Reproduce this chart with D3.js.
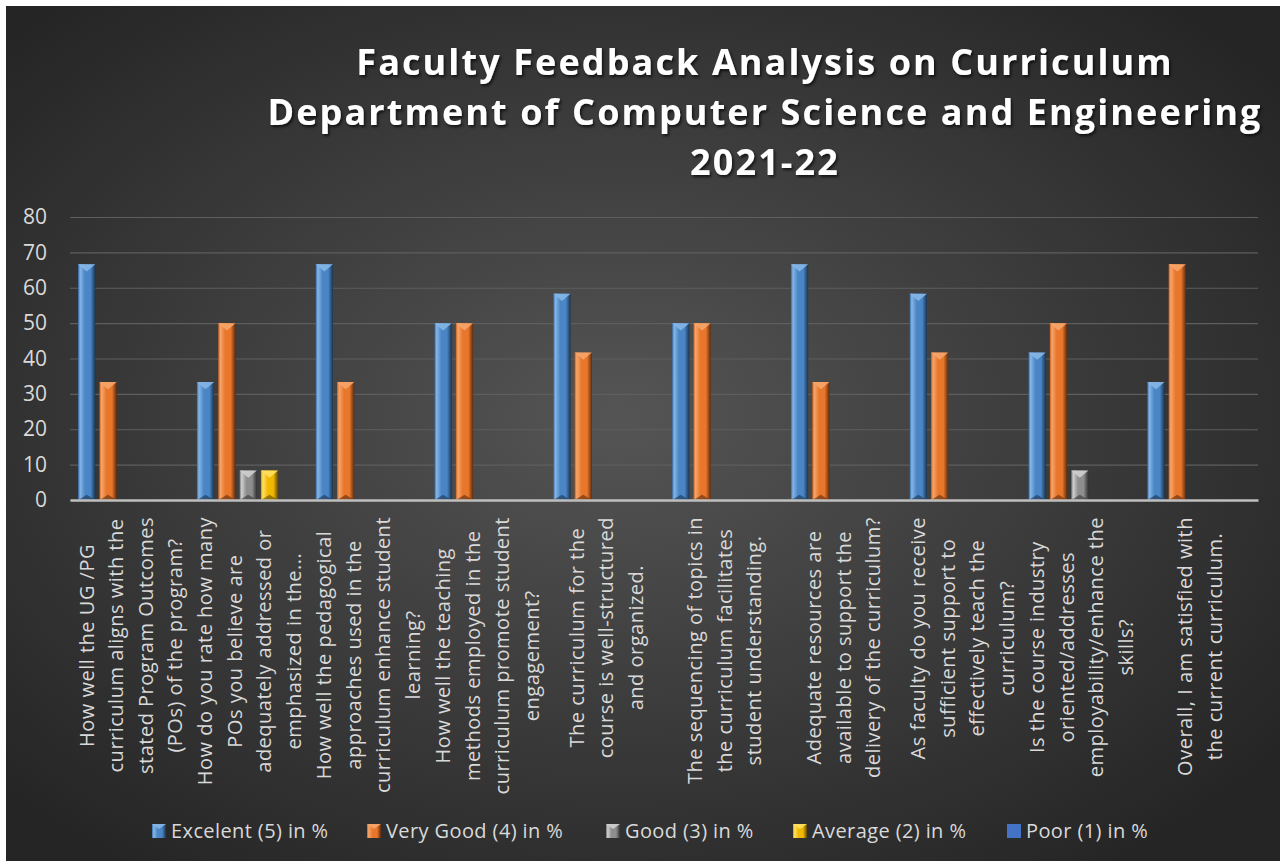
<!DOCTYPE html>
<html>
<head>
<meta charset="utf-8">
<script src="https://cdn.jsdelivr.net/npm/d3@7"></script>
<style>
  html, body { margin: 0; padding: 0; background: #ffffff; }
  svg { display: block; }
  text { font-family: "Open Sans", "DejaVu Sans", sans-serif; }
</style>
</head>
<body>
<svg id="chart" width="1286" height="867"></svg>
<script>
// ---------- data ----------
const titleLines = [
  "Faculty Feedback Analysis on Curriculum",
  "Department of Computer Science and Engineering",
  "2021-22"
];
const categoryLines = [
  ["How well the UG /PG", "curriculum aligns with the", "stated Program Outcomes", "(POs) of the program?"],
  ["How do you rate how many", "POs you believe are", "adequately addressed or", "emphasized in the..."],
  ["How well the pedagogical", "approaches used in the", "curriculum enhance student", "learning?"],
  ["How well the teaching", "methods employed in the", "curriculum promote student", "engagement?"],
  ["The curriculum for the", "course is well-structured", "and organized."],
  ["The sequencing of topics in", "the curriculum  facilitates", "student understanding."],
  ["Adequate resources are", "available to support the", "delivery of the curriculum?"],
  ["As faculty do you receive", "sufficient support to", "effectively teach the", "curriculum?"],
  ["Is the course industry", "oriented/addresses", "employability/enhance the", "skills?"],
  ["Overall, I am satisfied with", "the current  curriculum."]
];
const categories = categoryLines.map(l => l.join(" "));
const seriesNames = ["Excelent (5) in %", "Very Good (4) in %", "Good (3) in %", "Average (2) in %", "Poor (1) in %"];
const excellent = [66.67, 33.33, 66.67, 50, 58.33, 50, 66.67, 58.33, 41.67, 33.33];
const veryGood  = [33.33, 50, 33.33, 50, 41.67, 50, 33.33, 41.67, 50, 66.67];
const good      = [0, 8.33, 0, 0, 0, 0, 0, 0, 8.33, 0];
const average   = [0, 8.33, 0, 0, 0, 0, 0, 0, 0, 0];
const poor      = [0, 0, 0, 0, 0, 0, 0, 0, 0, 0];
const seriesValues = [excellent, veryGood, good, average, poor];
const yTicks = [0, 10, 20, 30, 40, 50, 60, 70, 80];

// ---------- styles ----------
const palette = [
  { base: "#4a86c6", light: "#86b6e6", dark: "#1b344f", edge: "#356aa3" },
  { base: "#e8772c", light: "#f6a56b", dark: "#5e2b0c", edge: "#c45f1e" },
  { base: "#8e8e8e", light: "#cfcfcf", dark: "#333333", edge: "#707070" },
  { base: "#f0b800", light: "#ffe163", dark: "#5e4700", edge: "#cf9c00" },
  { base: "#4472c4", light: "#4472c4", dark: "#4472c4", edge: "#4472c4", flat: true }
];

const plot = { left: 70, right: 1258, top: 217, bottom: 500 };

const svg = d3.select("#chart");
const defs = svg.append("defs");

// background gradient
const bg = defs.append("radialGradient").attr("id", "bg")
  .attr("cx", "48%").attr("cy", "48%").attr("r", "65%");
bg.append("stop").attr("offset", "0%").attr("stop-color", "#555555");
bg.append("stop").attr("offset", "100%").attr("stop-color", "#252525");

palette.forEach((p, i) => {
  const g = defs.append("linearGradient").attr("id", "bar" + i)
    .attr("x1", "0%").attr("x2", "100%").attr("y1", "0%").attr("y2", "0%");
  if (p.flat) {
    g.append("stop").attr("offset", "0%").attr("stop-color", p.base);
    g.append("stop").attr("offset", "100%").attr("stop-color", p.base);
  } else {
    g.append("stop").attr("offset", "0%").attr("stop-color", p.edge);
    g.append("stop").attr("offset", "12%").attr("stop-color", p.light);
    g.append("stop").attr("offset", "40%").attr("stop-color", p.base);
    g.append("stop").attr("offset", "72%").attr("stop-color", p.base);
    g.append("stop").attr("offset", "100%").attr("stop-color", p.dark);
  }
});

const shadow = defs.append("filter").attr("id", "tshadow")
  .attr("x", "-5%").attr("y", "-20%").attr("width", "110%").attr("height", "140%");
shadow.append("feDropShadow").attr("dx", 1.5).attr("dy", 2).attr("stdDeviation", 1.5)
  .attr("flood-color", "#000").attr("flood-opacity", 0.7);

// background box
svg.append("rect").attr("x", 6).attr("y", 6).attr("width", 1274).attr("height", 855)
  .attr("fill", "url(#bg)");

// title
const title = svg.append("g").attr("filter", "url(#tshadow)");
title.selectAll("text").data(titleLines).join("text")
  .attr("x", 765).attr("y", (d, i) => 75 + i * 50)
  .attr("text-anchor", "middle")
  .attr("fill", "#ffffff")
  .attr("font-size", 36).attr("font-weight", 700)
  .attr("letter-spacing", 2.1)
  .text(d => d);

// scales
const x0 = d3.scaleBand().domain(categories).range([plot.left, plot.right]).paddingInner(0).paddingOuter(0);
const x1 = d3.scaleBand().domain(seriesNames).range([0, x0.bandwidth()]).paddingInner(0.19).paddingOuter(0.38);
const y = d3.scaleLinear().domain([0, 80]).range([plot.bottom, plot.top]);

// gridlines
const grid = svg.append("g").attr("transform", `translate(${plot.left},0)`)
  .call(d3.axisLeft(y).tickValues(yTicks).tickSize(-(plot.right - plot.left)).tickFormat(""));
grid.select(".domain").remove();
grid.selectAll("line").attr("stroke", "#5e5e5e").attr("stroke-width", 1.2);

// y axis labels
const yAxis = svg.append("g").attr("transform", `translate(${plot.left},0)`)
  .call(d3.axisLeft(y).tickValues(yTicks).tickSize(0).tickPadding(23));
yAxis.select(".domain").remove();
yAxis.selectAll("text").attr("fill", "#d9d9d9").attr("font-size", 21)
  .attr("font-family", "'Open Sans', sans-serif");

// bars
const barData = [];
categories.forEach((c, ci) => {
  seriesNames.forEach((s, si) => {
    barData.push({ cat: c, ser: s, si, v: seriesValues[si][ci] });
  });
});
const bars = svg.append("g").selectAll("g.bar").data(barData.filter(d => d.v > 0)).join("g").attr("class", "bar");
bars.append("rect")
  .attr("x", d => x0(d.cat) + x1(d.ser))
  .attr("y", d => y(d.v))
  .attr("width", x1.bandwidth())
  .attr("height", d => y(0) - y(d.v))
  .attr("fill", d => `url(#bar${d.si})`);
// top bevel (V-shaped cap)
bars.append("path")
  .attr("d", d => {
    const xl = x0(d.cat) + x1(d.ser), w = x1.bandwidth(), yt = y(d.v);
    return `M${xl},${yt} L${xl + w},${yt} L${xl + w / 2},${yt + w * 0.42} Z`;
  })
  .attr("fill", d => palette[d.si].light).attr("opacity", 0.9);
// bottom bevel
bars.append("path")
  .attr("d", d => {
    const xl = x0(d.cat) + x1(d.ser), w = x1.bandwidth(), yb = y(0);
    return `M${xl},${yb} L${xl + w},${yb} L${xl + w / 2},${yb - w * 0.3} Z`;
  })
  .attr("fill", d => palette[d.si].dark).attr("opacity", 0.6);

// x axis line
svg.append("g").attr("transform", `translate(0,${plot.bottom})`)
  .call(d3.axisBottom(x0).tickSize(0).tickFormat(""))
  .call(g => g.select(".domain").attr("stroke", "#bfbfbf").attr("stroke-width", 2.5));

// x labels (rotated, wrapped)
const lineStep = 29.5;
const labelTop = 517;
const lab = svg.append("g");
categories.forEach((c, ci) => {
  const lines = categoryLines[ci];
  const cx = x0(c) + x0.bandwidth() / 2 + 1.5;
  const g = lab.append("g");
  const texts = g.selectAll("text").data(lines).join("text")
    .attr("text-anchor", "middle")
    .attr("fill", "#d9d9d9")
    .attr("font-size", 20)
    .attr("letter-spacing", 0.5)
    .attr("dy", "0.35em")
    .text(d => d);
  let maxLen = 0;
  texts.each(function () { maxLen = Math.max(maxLen, this.getComputedTextLength()); });
  const cy = labelTop + maxLen / 2;
  texts.attr("transform", (d, i) => {
    const lx = cx + (i - (lines.length - 1) / 2) * lineStep;
    return `translate(${lx},${cy}) rotate(-90)`;
  });
});

// legend
const legendX = [152, 367, 606, 793, 1007];
const legend = svg.append("g");
seriesNames.forEach((s, i) => {
  const g = legend.append("g").attr("transform", `translate(${legendX[i]},824)`);
  g.append("rect").attr("width", 14).attr("height", 14).attr("fill", `url(#bar${i})`);
  if (!palette[i].flat) {
    g.append("path").attr("d", "M0,0 L14,0 L7,5 Z").attr("fill", palette[i].light).attr("opacity", 0.9);
  }
  g.append("text").attr("x", 19).attr("y", 7).attr("dy", "0.35em")
    .attr("fill", "#d9d9d9").attr("font-size", 20).attr("letter-spacing", 0.4).text(s);
});
</script>
</body>
</html>
